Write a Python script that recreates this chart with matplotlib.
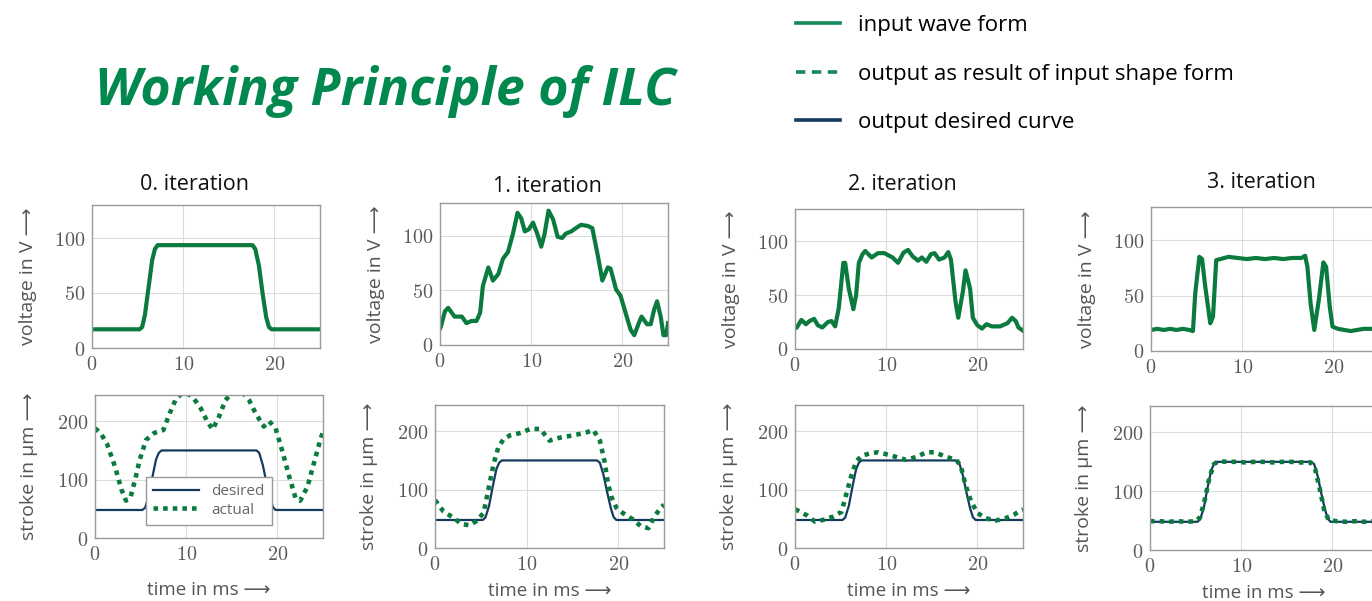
import matplotlib
matplotlib.use("Agg")
import matplotlib.pyplot as plt
from matplotlib.lines import Line2D

plt.rcParams['mathtext.fontset'] = 'cm'
SANS = ['Open Sans', 'DejaVu Sans']

# ---- data (time in ms) ----
titles = ['0. iteration', '1. iteration', '2. iteration', '3. iteration']

# desired output curve (same in every iteration)
t_des = [0, 5.2, 5.5, 5.9, 6.3, 6.7, 7.0, 7.3, 17.7, 18.0, 18.4, 18.8, 19.2, 19.5, 19.8, 25]
v_des = [48, 48, 52, 72, 105, 135, 146, 150, 150, 146, 125, 95, 68, 53, 48, 48]

# input wave forms (voltage in V)
t_in0 = [0, 5.2, 5.5, 5.8, 6.2, 6.6, 6.9, 7.2, 17.6, 17.9, 18.3, 18.7, 19.1, 19.4, 19.7, 25]
v_in0 = [17, 17, 19, 30, 55, 80, 90, 93.5, 93.5, 90, 75, 50, 28, 19, 17, 17]

t_in1 = [0, 0.1, 0.55, 0.9, 1.6, 2.4, 2.9, 3.45, 4.0, 4.4, 4.7, 5.3, 5.8, 6.4, 6.9, 7.45,
         8.0, 8.5, 8.9, 9.3, 9.75, 10.2, 10.7, 11.1, 11.45, 11.9, 12.4, 12.9, 13.4, 13.8,
         14.4, 14.9, 15.45, 16.2, 16.7, 17.3, 17.8, 18.4, 18.7, 19.3, 19.8, 20.4, 20.9,
         21.3, 21.8, 22.1, 22.7, 23.1, 23.5, 23.8, 24.2, 24.5, 24.8, 25]
v_in1 = [15, 17, 31, 34, 26, 26, 20, 22, 22, 29.5, 54, 71, 59, 65, 79, 85,
         102, 121, 116, 104, 106, 112, 101, 90, 101, 123, 115, 99, 98, 102,
         104, 107, 110, 109, 107, 82, 59, 71, 70, 51, 45, 28, 14,
         9, 20, 26, 19, 19, 33, 40, 26, 9, 9, 20]

t_in2 = [0, 0.2, 0.7, 1.2, 1.6, 2.1, 2.5, 3.0, 3.6, 4.0, 4.4, 4.8, 5.3, 5.5, 5.9, 6.4, 6.7,
         7.0, 7.4, 7.7, 8.4, 9.1, 9.8, 10.7, 11.3, 11.9, 12.4, 12.9, 13.5, 13.9, 14.4,
         14.9, 15.3, 15.8, 16.4, 16.8, 17.1, 17.6, 17.9, 18.4, 18.7, 19.2, 19.5, 20.0,
         20.5, 21.0, 21.6, 22.5, 23.3, 23.8, 24.2, 24.5, 25]
v_in2 = [19, 20, 27, 23, 26, 28, 22, 20, 25, 26, 21, 38, 80, 80, 56, 37, 50,
         80, 88, 91, 85, 89, 89, 85, 80, 89.5, 92, 86, 82, 85, 81,
         88, 89, 83, 85, 90, 83, 44, 29, 53, 73, 56, 29, 22,
         19, 23, 21, 21, 24, 29, 26, 20, 17]

t_in3 = [0, 0.7, 1.4, 2.1, 2.8, 3.5, 4.2, 4.6, 4.85, 5.3, 5.6, 5.95, 6.5, 6.8, 7.15, 7.6,
         8.5, 9.5, 10.5, 11.5, 12.5, 13.5, 14.5, 15.5, 16.5, 16.9, 17.15, 17.5, 17.9,
         18.4, 18.9, 19.2, 19.6, 19.9, 20.5, 21.2, 21.9, 22.6, 23.3, 24.0, 25]
v_in3 = [19, 20, 19, 20, 19, 20, 19, 18, 52, 85, 83, 58, 25, 31, 82, 83,
         85, 84, 83, 84, 83, 84, 83, 84, 84, 86, 76, 43, 19,
         46, 80, 76, 40, 22, 20, 19, 18, 19, 20, 20, 20]

# actual output (stroke in µm)
t_out0 = [0, 0.6, 1.3, 2.2, 2.9, 3.4, 3.9, 4.4, 4.9, 5.6, 6.5, 7.5, 8.2, 8.9, 9.5, 10.2,
          10.8, 11.6, 12.3, 12.9, 13.6, 14.3, 14.9, 15.6, 16.3, 16.9, 17.6, 18.5, 19.1,
          19.8, 20.5, 21.3, 22.0, 22.5, 23.3, 24.0, 24.7, 25]
v_out0 = [188, 180, 162, 122, 83, 64, 70, 100, 134, 168, 180, 185, 214, 239, 247, 247,
          240, 222, 200, 186, 208, 236, 247, 249, 247, 236, 214, 191, 200,
          188, 151, 105, 68, 64, 88, 128, 168, 182]

t_out1 = [0, 0.2, 0.9, 2.0, 2.9, 3.8, 4.5, 5.3, 5.8, 6.4, 6.9, 7.5, 8.2, 9.3, 10.4, 11.5,
          12.5, 13.6, 15.1, 16.5, 17.3, 18.0, 18.5, 18.9, 19.3, 19.8, 20.5, 21.6, 22.5,
          23.3, 24.0, 24.7, 25]
v_out1 = [82, 78, 63, 52, 41, 39, 46, 60, 98, 144, 172, 187, 193, 197, 204, 204,
          184, 189, 193, 198, 202, 184, 149, 109, 86, 69, 60, 49, 37,
          34, 55, 70, 74]

t_out2 = [0, 0.2, 1.3, 2.2, 3.3, 4.2, 5.1, 5.6, 6.2, 6.7, 7.3, 8.2, 9.1, 10.2, 11.3, 12.2,
          13.3, 14.4, 15.3, 16.6, 17.7, 18.2, 18.7, 19.3, 20.0, 20.9, 22.0, 23.1, 24.0,
          24.8, 25]
v_out2 = [66, 65, 56, 45, 49, 54, 62, 91, 125, 148, 158, 162, 164, 160, 155, 151,
          156, 164, 164, 156, 151, 139, 108, 80, 60, 51, 47, 51, 57,
          65, 66]

t_out3 = [0, 1, 2, 3, 4, 5, 5.5, 6.0, 6.5, 7.0, 7.5, 8.5, 9.5, 10.5, 11.5, 12.5, 13.5,
          14.5, 15.5, 16.5, 17.6, 18.1, 18.6, 19.1, 19.6, 20.5, 21.5, 22.5, 23.5, 24.5, 25]
v_out3 = [49, 49, 48, 49, 48, 49, 56, 85, 122, 146, 151, 150, 150, 149, 150, 150, 149,
          150, 150, 149, 149, 138, 105, 68, 51, 49, 48, 49, 48, 49, 49]

inputs = [(t_in0, v_in0), (t_in1, v_in1), (t_in2, v_in2), (t_in3, v_in3)]
outputs = [(t_out0, v_out0), (t_out1, v_out1), (t_out2, v_out2), (t_out3, v_out3)]

# ---- layout (pixel boxes: left, top, right, bottom) ----
W, H = 1372, 601
top_boxes = [(92, 205, 320, 348), (440, 203, 668, 345), (795, 209, 1023, 349), (1151, 207, 1379, 351)]
bot_boxes = [(95, 395, 323, 538), (435, 405, 664, 548), (795, 405, 1023, 548), (1150, 406, 1378, 550)]
title_pos = [(194, 185), (547, 187), (902, 185), (1261, 183)]
xlabel_y = [590, 591, 591, 593]

GREEN = '#0b7a3e'
LGREEN = '#138a5a'
NAVY = '#143a5e'
GRAY = '#555555'


def make_axes(fig, box):
    l, t, r, b = box
    return fig.add_axes([l / W, 1 - b / H, (r - l) / W, (b - t) / H])


def style(ax, yticks, ylim):
    ax.set_xlim(0, 25)
    ax.set_ylim(*ylim)
    ax.set_xticks([0, 10, 20])
    ax.set_xticklabels(['$%d$' % v for v in [0, 10, 20]])
    ax.set_yticks(yticks)
    ax.set_yticklabels(['$%d$' % v for v in yticks])
    ax.grid(True, color='#dcdcdc', lw=0.8)
    ax.set_axisbelow(True)
    for s in ax.spines.values():
        s.set_color('#9a9a9a')
        s.set_linewidth(1.0)
    ax.tick_params(length=0, labelsize=14.5, labelcolor='#5a5a5a', pad=5)


fig = plt.figure(figsize=(W / 100, H / 100), dpi=100)

for i in range(4):
    # input voltage
    ax = make_axes(fig, top_boxes[i])
    t, v = inputs[i]
    ax.plot(t, v, color=GREEN, lw=3.0, solid_joinstyle='round')
    style(ax, [0, 50, 100], (0, 130))
    ax.set_ylabel('voltage in V ⟶', family=SANS, fontsize=14, color=GRAY)
    ax.yaxis.set_label_coords(-0.28, 0.5)
    ax.yaxis.label.set_va('center')
    fig.text(title_pos[i][0] / W, 1 - title_pos[i][1] / H, titles[i], family=SANS,
             fontsize=15.5, ha='center', va='center', color='#111111')

    # output stroke
    ax2 = make_axes(fig, bot_boxes[i])
    ax2.plot(t_des, v_des, color=NAVY, lw=1.6, label='desired')
    t, v = outputs[i]
    ax2.plot(t, v, color=GREEN, lw=3.3, linestyle=(0, (1, 1.1)), label='actual')
    style(ax2, [0, 100, 200], (0, 245))
    ax2.set_ylabel('stroke in µm ⟶', family=SANS, fontsize=14, color=GRAY)
    ax2.yaxis.set_label_coords(-0.29, 0.5)
    ax2.yaxis.label.set_va('center')
    l, tp, r, b = bot_boxes[i]
    ax2.set_xlabel('time in ms ⟶', family=SANS, fontsize=13.5, color=GRAY)
    ax2.xaxis.set_label_coords(0.5, -(xlabel_y[i] - b) / (b - tp))
    ax2.xaxis.label.set_va('center')
    if i == 0:
        leg = ax2.legend(loc='lower center', bbox_to_anchor=(0.5, 0.04),
                         prop={'family': SANS, 'size': 11}, fancybox=False,
                         framealpha=1, edgecolor='#999999', handlelength=3.0,
                         borderpad=0.45, labelspacing=0.25)
        for txt in leg.get_texts():
            txt.set_color('#666666')

# main title
fig.text(95 / W, 1 - 105 / H, 'Working Principle of ILC', family=SANS, fontsize=37.4,
         fontweight='bold', fontstyle='italic', color='#00884f', ha='left', va='baseline')

# legend at the top right
handles = [Line2D([], [], color=LGREEN, lw=2.6),
           Line2D([], [], color=LGREEN, lw=2.6, linestyle=(0, (2.6, 1.8))),
           Line2D([], [], color=NAVY, lw=2.6)]
labels = ['input wave form', 'output as result of input shape form', 'output desired curve']
fig.legend(handles, labels, loc='upper left', bbox_to_anchor=(776 / W, 1 + 5 / H),
           frameon=False, prop={'family': SANS, 'size': 16}, handlelength=2.0,
           handletextpad=0.8, labelspacing=1.24)

fig.savefig('out.png', dpi=100)
